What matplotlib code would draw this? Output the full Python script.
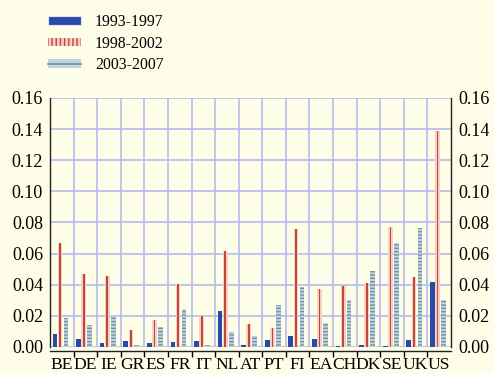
import numpy as np
import matplotlib
matplotlib.use("Agg")
import matplotlib.pyplot as plt
from matplotlib.patches import Patch
from matplotlib.lines import Line2D
from matplotlib.legend_handler import HandlerTuple

plt.rcParams['font.family'] = ['Liberation Serif', 'DejaVu Serif']
plt.rcParams['hatch.linewidth'] = 1.0

countries = ['BE', 'DE', 'IE', 'GR', 'ES', 'FR', 'IT', 'NL', 'AT', 'PT',
             'FI', 'EA', 'CH', 'DK', 'SE', 'UK', 'US']
p1993 = [0.0082, 0.0050, 0.0026, 0.0037, 0.0026, 0.0035, 0.0037, 0.0232, 0.0012,
         0.0043, 0.0069, 0.0052, 0.0007, 0.0013, 0.0009, 0.0043, 0.0417]
p1998 = [0.0667, 0.0469, 0.0458, 0.0108, 0.0172, 0.0402, 0.0200, 0.0619, 0.0145,
         0.0120, 0.0757, 0.0372, 0.0394, 0.0408, 0.0773, 0.0448, 0.1385]
p2003 = [0.0187, 0.0144, 0.0191, 0.0013, 0.0127, 0.0243, 0.0015, 0.0095, 0.0069,
         0.0268, 0.0383, 0.0156, 0.0305, 0.0487, 0.0667, 0.0762, 0.0305]
labels = ['1993-1997', '1998-2002', '2003-2007']

bg = '#fdfde8'
blue = '#2a4aa8'
red = '#c2473a'
pink = '#f4cfc4'
lightb = '#c2d3de'
dashc = '#6f93a8'
gridc = '#b6bdec'

fig = plt.figure(figsize=(4.94, 3.74), dpi=100, facecolor=bg)
ax = fig.add_axes([0.1012, 0.0722, 0.8118, 0.6658], facecolor=bg)

x = np.arange(len(countries))
w = 0.2
ax.bar(x - 0.29, p1993, w, color=blue, linewidth=0, zorder=3)
ax.bar(x - 0.07, p1998, w, color=pink, linewidth=0, zorder=3)
ax.bar(x - 0.07, p1998, 0.07, color=red, linewidth=0, zorder=4)
ax.bar(x + 0.18, p2003, w, color=lightb, edgecolor=dashc, hatch='-----', linewidth=0, zorder=3)

ax.set_xlim(-0.5, len(countries) - 0.5)
ax.set_ylim(0, 0.16)
ax.set_yticks(np.arange(0, 0.161, 0.02))
ax.set_yticklabels(['%.2f' % v for v in np.arange(0, 0.161, 0.02)])
ax.set_xticks(x)
ax.set_xticklabels(countries)
ax.set_xticks(x[:-1] + 0.5, minor=True)
ax.tick_params(axis='x', which='major', length=0, pad=4, labelsize=12.6)
ax.tick_params(axis='x', which='minor', length=4, width=1, direction='out')
ax.tick_params(axis='y', length=0, labelsize=13, labelleft=True, labelright=True, pad=5)

ax.grid(True, axis='y', color=gridc, linewidth=1.2, zorder=0)
ax.grid(True, axis='x', which='minor', color=gridc, linewidth=1.2, zorder=0)
ax.set_axisbelow(True)

ax.spines['top'].set_visible(False)
for s in ['left', 'right', 'bottom']:
    ax.spines[s].set_color('#222222')
    ax.spines[s].set_linewidth(1.0)
ax.spines['bottom'].set_position(('outward', 3))

h3 = (Patch(facecolor=lightb, linewidth=0), Line2D([], [], color=dashc, linewidth=1.2))
handles = [Patch(facecolor=blue, edgecolor='#dde4f4', linewidth=0.8),
           Patch(facecolor=pink, edgecolor=red, hatch='||||', linewidth=0),
           h3]
fig.legend(handles, labels, loc='upper left', bbox_to_anchor=(0.068, 1.0),
           frameon=False, fontsize=11.3, handlelength=2.1, handleheight=0.45,
           handletextpad=0.9, labelspacing=0.35, borderaxespad=0.5,
           handler_map={tuple: HandlerTuple(ndivide=1, pad=0)})

fig.savefig('out.png', dpi=100, facecolor=bg)
